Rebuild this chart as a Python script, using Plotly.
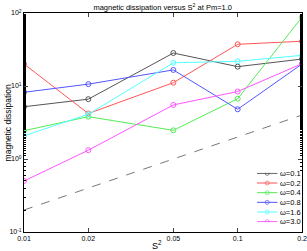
import plotly.graph_objects as go

s2 = [0.01, 0.02, 0.05, 0.1, 0.2]
omega_labels = ["ω=0.1", "ω=0.2", "ω=0.4", "ω=0.8", "ω=1.6", "ω=3.0"]
diss_w01 = [5.2, 6.6, 28.3, 18.4, 23.4]
diss_w02 = [20.0, 4.2, 11.1, 37.3, 41.0]
diss_w04 = [2.44, 3.8, 2.47, 6.7, 87.6]
diss_w08 = [8.2, 10.6, 16.6, 4.8, 20.0]
diss_w16 = [2.08, 4.1, 20.8, 21.8, 26.3]
diss_w30 = [0.50, 1.32, 5.5, 8.4, 20.2]
ref_x = [0.01, 0.2]
ref_y = [0.2, 4.0]

x_ticks = [0.01, 0.02, 0.05, 0.1, 0.2]
x_ticktext = ["0.01", "0.02", "0.05", "0.1", "0.2"]
y_ticks = [0.1, 1, 10, 100]
y_ticktext = ["10<sup>-1</sup>", "10<sup>0</sup>", "10<sup>1</sup>", "10<sup>2</sup>"]

series = [diss_w01, diss_w02, diss_w04, diss_w08, diss_w16, diss_w30]
colors = ["rgb(85,85,85)", "rgb(255,85,85)", "rgb(85,235,85)",
          "rgb(85,85,255)", "rgb(85,255,255)", "rgb(255,85,255)"]
FONT = "Liberation Sans"

fig = go.Figure()
fig.add_trace(go.Scatter(x=ref_x, y=ref_y, mode="lines",
                         line=dict(color="rgb(120,120,120)", width=1, dash="dash"),
                         showlegend=False))
for name, ys, c in zip(omega_labels, series, colors):
    fig.add_trace(go.Scatter(x=s2, y=ys, mode="lines+markers", name=name, showlegend=False,
                             line=dict(color=c, width=1),
                             marker=dict(symbol="circle-open", size=5, color=c, line=dict(width=1))))

# hand-made compact legend on its own small axis pair
LEG_END = 2.2
for i, (name, c) in enumerate(zip(omega_labels, colors)):
    fig.add_trace(go.Scatter(x=[0, 0.5, 1], y=[i, i, i], mode="lines+markers",
                             xaxis="x2", yaxis="y2", showlegend=False, hoverinfo="skip",
                             line=dict(color=c, width=1),
                             marker=dict(symbol="circle-open", size=[0, 4, 0], color=c,
                                         line=dict(width=1))))
    fig.add_annotation(x=LEG_END, y=i, xref="x2", yref="y2", text=name, showarrow=False,
                       xanchor="right", yanchor="middle", borderpad=0,
                       font=dict(size=7.5, family=FONT, color="black"))

axis_common = dict(showline=True, linecolor="black", linewidth=1, mirror="ticks",
                   ticks="inside", showgrid=False, zeroline=False, automargin=False,
                   tickfont=dict(size=7, color="black", family=FONT))
fig.update_layout(
    xaxis=dict(type="log", range=[-2, -0.69897], tickvals=x_ticks, ticktext=x_ticktext,
               ticklen=4, domain=[0, 1], **axis_common),
    yaxis=dict(type="log", range=[-1, 2], tickvals=y_ticks, ticktext=y_ticktext,
               ticklen=4, domain=[0, 1], minor=dict(ticks="inside", ticklen=2, tickcolor="black"),
               **axis_common),
    xaxis2=dict(domain=[0.838, 1.0], range=[0, LEG_END], anchor="y2",
                visible=False, fixedrange=True, automargin=False),
    yaxis2=dict(domain=[0.045, 0.27], range=[5.05, -0.05], anchor="x2",
                visible=False, fixedrange=True, automargin=False),
)

fig.update_layout(
    width=307, height=251,
    margin=dict(l=24, r=5, t=13, b=19, autoexpand=False),
    paper_bgcolor="white", plot_bgcolor="white",
    showlegend=False,
    title=dict(text="magnetic dissipation versus S<sup>2</sup> at Pm=1.0", x=0.53, xanchor="center",
               y=0.972, yanchor="middle", font=dict(size=7.5, family=FONT, color="black")),
    font=dict(family=FONT),
)
fig.add_annotation(x=0.478, y=-0.059, xref="paper", yref="paper", text="S<sup>2</sup>",
                   showarrow=False, xanchor="center", yanchor="middle",
                   font=dict(size=9, family=FONT, color="black"))
fig.add_annotation(x=-0.058, y=0.5, xref="paper", yref="paper", text="magnetic dissipation",
                   showarrow=False, xanchor="center", yanchor="middle", textangle=-90,
                   font=dict(size=8.5, family=FONT, color="black"))
fig.write_html("out.html", config={"displayModeBar": False},
               post_script="document.body.style.margin='0';document.body.style.overflow='hidden';")
